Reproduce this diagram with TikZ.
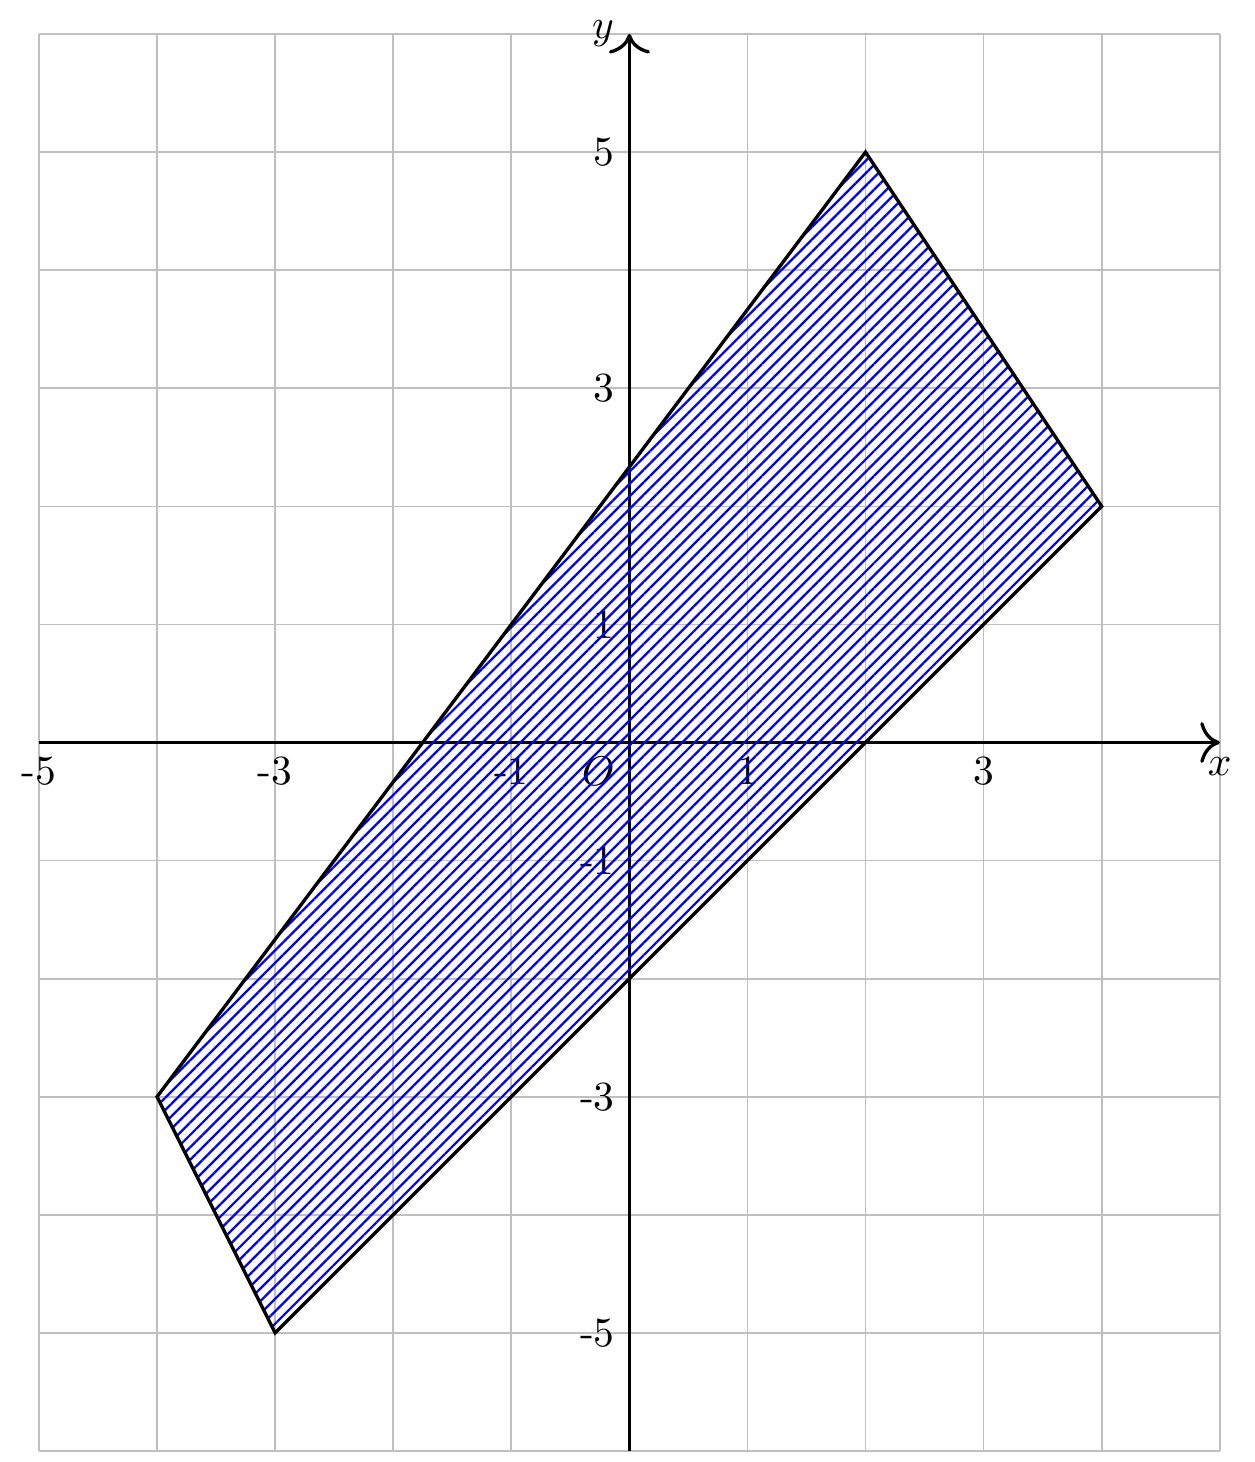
\documentclass[tikz,border=0pt]{standalone}
\usetikzlibrary{patterns.meta, arrows.meta}
\begin{document}
\begin{tikzpicture}[>={To[scale=1.4]}]
	\useasboundingbox (-5.33, -6.093) rectangle (5.296, 6.288);
	\draw[gray!50] (-5, -6) grid (5, 6);
	\draw[thick, ->] (-5, 0) -- (5, 0) node[below] {$x$};
	\draw[thick, ->] (0, -6) -- (0, 6) node[left] {$y$};
	\foreach \i in {-5, -3, -1, 1, 3}{
		\node[below] at (\i, 0) {\i};
	}
	\foreach \i in {-5, -3, -1, 1, 3, 5}{
		\node[left] at (0, \i) {\i};
	}
	\node[below left] at (0, 0) {$O$};
	\draw[thick, pattern={Lines[angle=45, distance=2.12pt, line width=0.55pt]}, pattern color=blue] (-4, -3) -- (2, 5) -- (4, 2) -- (-3, -5) -- cycle;
\end{tikzpicture}
\end{document}
